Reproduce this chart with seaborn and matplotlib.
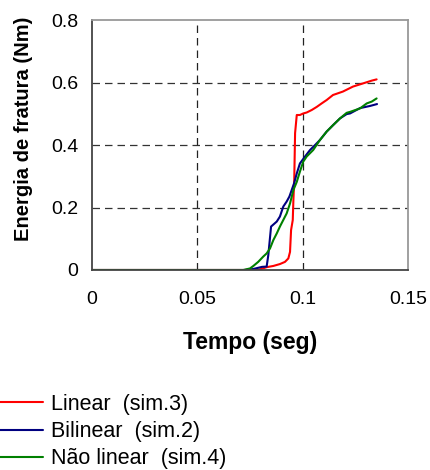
import matplotlib
matplotlib.use("Agg")
import matplotlib.pyplot as plt
import seaborn as sns
import pandas as pd
from matplotlib.lines import Line2D

# Data
t_linear = [0.0, 0.0783, 0.0797, 0.0829, 0.0861, 0.0892, 0.0916, 0.0932, 0.0940, 0.0945,
            0.0953, 0.0956, 0.0960, 0.0964, 0.0972, 0.0987, 0.1003, 0.1019, 0.1043, 0.1067,
            0.1090, 0.1114, 0.1144, 0.1191, 0.1239, 0.1286, 0.1328, 0.1351]
e_linear = [0.0, 0.0, 0.002, 0.009, 0.013, 0.019, 0.026, 0.037, 0.058, 0.128,
            0.160, 0.224, 0.288, 0.438, 0.496, 0.496, 0.501, 0.504, 0.512, 0.522,
            0.533, 0.544, 0.560, 0.571, 0.587, 0.597, 0.606, 0.610]

t_bilinear = [0.0, 0.0726, 0.0764, 0.0807, 0.0829, 0.0837, 0.0850, 0.0877, 0.0892, 0.0908,
              0.0924, 0.0937, 0.0948, 0.0959, 0.0972, 0.0987, 0.1011, 0.1035, 0.1059, 0.1082,
              0.1114, 0.1145, 0.1177, 0.1209, 0.1225, 0.1272, 0.1320, 0.1353]
e_bilinear = [0.0, 0.0, 0.003, 0.010, 0.011, 0.048, 0.139, 0.155, 0.171, 0.203,
              0.219, 0.235, 0.256, 0.277, 0.309, 0.341, 0.363, 0.384, 0.400, 0.416,
              0.443, 0.464, 0.485, 0.499, 0.501, 0.518, 0.525, 0.531]

t_naolinear = [0.0, 0.0718, 0.0750, 0.0766, 0.0789, 0.0813, 0.0829, 0.0845, 0.0861, 0.0877,
               0.0892, 0.0908, 0.0924, 0.0940, 0.0956, 0.0972, 0.0987, 0.1003, 0.1019, 0.1050,
               0.1082, 0.1114, 0.1145, 0.1177, 0.1209, 0.1225, 0.1272, 0.1304, 0.1328, 0.1351]
e_naolinear = [0.0, 0.0, 0.005, 0.013, 0.026, 0.043, 0.053, 0.069, 0.096, 0.117,
               0.139, 0.160, 0.181, 0.213, 0.256, 0.282, 0.315, 0.347, 0.363, 0.384,
               0.416, 0.443, 0.464, 0.485, 0.503, 0.506, 0.517, 0.533, 0.539, 0.549]

series_names = ["Linear  (sim.3)", "Bilinear  (sim.2)", "Não linear  (sim.4)"]
series_colors = ["#FF0000", "#000080", "#008000"]

x_ticks = [0, 0.05, 0.1, 0.15]
x_ticklabels = ["0", "0.05", "0.1", "0.15"]
y_ticks = [0, 0.2, 0.4, 0.6, 0.8]
y_ticklabels = ["0", "0.2", "0.4", "0.6", "0.8"]

frames = []
for name, t, e in zip(series_names, [t_linear, t_bilinear, t_naolinear],
                      [e_linear, e_bilinear, e_naolinear]):
    frames.append(pd.DataFrame({"Tempo": t, "Energia": e, "Série": name}))
df = pd.concat(frames, ignore_index=True)

sns.set_style("white")
plt.rcParams["font.family"] = ["Liberation Sans", "DejaVu Sans"]
plt.rcParams["text.color"] = "black"
plt.rcParams["axes.labelcolor"] = "black"

fig = plt.figure(figsize=(4.3, 4.7), dpi=100)
ax = fig.add_axes([92 / 430, 1 - 270 / 470, 316 / 430, 250 / 470])

sns.lineplot(data=df, x="Tempo", y="Energia", hue="Série", hue_order=series_names,
             palette=series_colors, estimator=None, sort=False, linewidth=1.5,
             ax=ax, legend=False)

ax.set_xlim(0, 0.15)
ax.set_ylim(0, 0.8)
ax.set_xticks(x_ticks)
ax.set_xticklabels(x_ticklabels)
ax.set_yticks(y_ticks)
ax.set_yticklabels(y_ticklabels)
ax.tick_params(axis="both", labelsize=14, length=4, width=1, color="#444444",
               labelcolor="black", direction="out", pad=6)
ax.tick_params(axis="x", pad=11)

for v in [0.2, 0.4, 0.6]:
    ax.axhline(v, color="#333333", linestyle=(0, (6, 4)), linewidth=0.9, zorder=0)
for v in [0.05, 0.1]:
    ax.axvline(v, color="#222222", linestyle=(0, (6, 4)), linewidth=0.9, zorder=0)

for s in ["left", "bottom"]:
    ax.spines[s].set_color("#444444")
    ax.spines[s].set_linewidth(1.3)
for s in ["top", "right"]:
    ax.spines[s].set_color("#999999")
    ax.spines[s].set_linewidth(1.3)

ax.set_xlabel("Tempo (seg)", fontsize=16.5, fontweight="bold", labelpad=17, color="black")
ax.set_ylabel("Energia de fratura (Nm)", fontsize=14.5, fontweight="bold", color="black")
ax.yaxis.set_label_coords((33 - 92) / 316, (270 - 129) / 250)

handles = [Line2D([0], [0], color=c, linewidth=1.5) for c in series_colors]
leg = fig.legend(handles, series_names, loc="upper left", bbox_to_anchor=(-0.005, 1 - 394 / 470),
                 frameon=False, fontsize=15.5, handlelength=2.1, handletextpad=0.37,
                 labelspacing=0.29, borderaxespad=0, borderpad=0)
for txt in leg.get_texts():
    txt.set_color("black")

fig.savefig("out.png", dpi=100)
